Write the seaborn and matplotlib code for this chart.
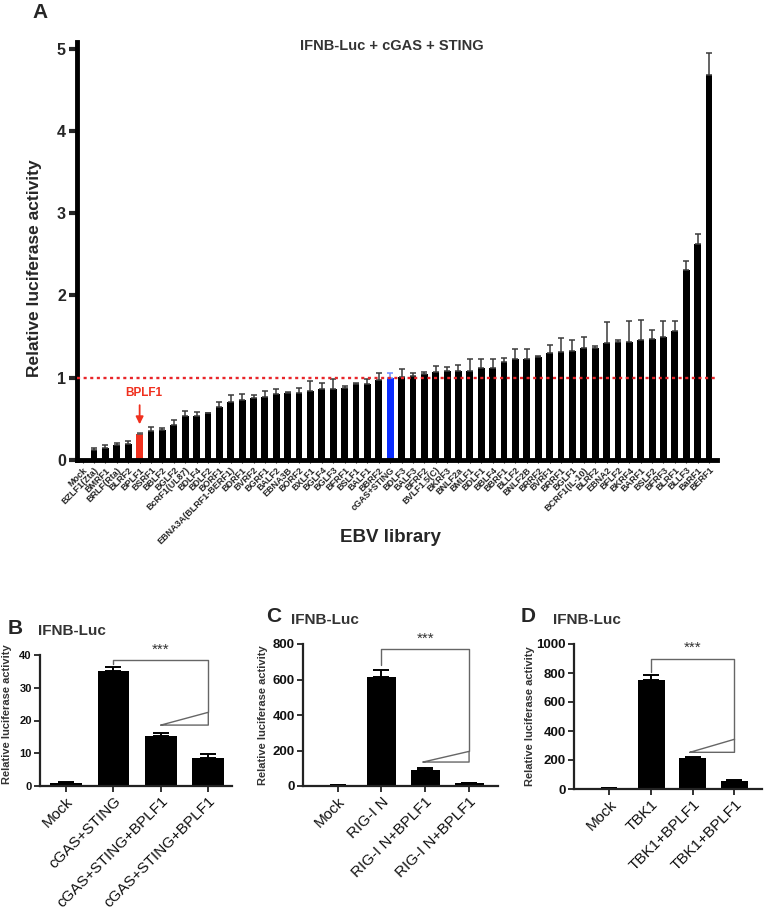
import numpy as np
import pandas as pd
import matplotlib
matplotlib.use("Agg")
import matplotlib.pyplot as plt
import seaborn as sns

sns.set_theme(style="white")
plt.rcParams['font.family'] = ['Liberation Sans', 'DejaVu Sans']

# ---------------- data: panel A ----------------
labels_A = ["Mock", "BZLF1(Zta)", "BMRF1", "BRLF(Rta)", "BLRF2", "BPLF1", "BSRF1", "BBLF2",
            "BGLF2", "BcRF1(UL87)", "BDLF4", "BDLF2", "BORF1", "EBNA3A(BLRF1-BERF1)", "BDRF1",
            "BVRF2", "BGRF1", "BALF2", "EBNA3B", "BORF2", "BXLF1", "BGLF4", "BGLF3", "BFRF1",
            "BSLF1", "BALF1", "BBRF2", "cGAS+STING", "BDLF3", "BALF3", "BFRF2", "BVLF1.5(C)",
            "BKRF3", "BNLF2a", "BMLF1", "BDLF1", "BBLF4", "BBRF1", "BLLF2", "BNLF2B", "BRRF2",
            "BVRF1", "BRRF1", "BGLF1", "BCRF1(IL-10)", "BLRF2", "EBNA2", "BFLF2", "BKRF4",
            "BARF1", "BSLF2", "BFRF3", "BLRF1", "BLLF3", "BaRF1", "BERF1"]
values_A = [0.0, 0.12, 0.15, 0.18, 0.195, 0.32, 0.35, 0.36, 0.42, 0.53, 0.54, 0.57, 0.64, 0.70,
            0.73, 0.75, 0.765, 0.80, 0.81, 0.82, 0.84, 0.86, 0.865, 0.88, 0.92, 0.92, 0.97, 1.00,
            1.005, 1.02, 1.045, 1.07, 1.08, 1.08, 1.08, 1.12, 1.12, 1.19, 1.23, 1.23, 1.25, 1.30,
            1.315, 1.325, 1.36, 1.36, 1.42, 1.44, 1.44, 1.46, 1.47, 1.49, 1.57, 2.31, 2.62, 4.68]
errtop_A = [0.0, 0.14, 0.18, 0.21, 0.23, 0.33, 0.40, 0.39, 0.49, 0.60, 0.585, 0.575, 0.71, 0.79,
            0.80, 0.79, 0.84, 0.86, 0.83, 0.88, 0.955, 0.935, 0.99, 0.905, 0.94, 0.98, 1.06, 1.06,
            1.10, 1.06, 1.07, 1.14, 1.13, 1.15, 1.23, 1.23, 1.23, 1.24, 1.355, 1.345, 1.265, 1.40,
            1.48, 1.46, 1.49, 1.39, 1.675, 1.46, 1.695, 1.70, 1.58, 1.69, 1.69, 2.42, 2.75, 4.95]
highlight_red = "BPLF1"
highlight_blue = "cGAS+STING"

# ---------------- data: panels B, C, D ----------------
labels_B = ["Mock", "cGAS+STING", "cGAS+STING+BPLF1", "cGAS+STING+BPLF1"]
values_B = [0.8, 35.2, 15.3, 8.5]
err_B = [0.5, 1.1, 0.8, 1.2]

labels_C = ["Mock", "RIG-I N", "RIG-I N+BPLF1", "RIG-I N+BPLF1"]
values_C = [4, 615, 92, 15]
err_C = [1, 38, 8, 4]

labels_D = ["Mock", "TBK1", "TBK1+BPLF1", "TBK1+BPLF1"]
values_D = [4, 752, 216, 55]
err_D = [1, 35, 8, 10]

RED = "#f0301e"
BLUE = "#0a2cff"
W, H = 764, 919

fig = plt.figure(figsize=(W / 100, H / 100), dpi=100)


def fx(px):
    return px / W


def fy(py):
    return 1 - py / H


# ================= Panel A =================
axA = fig.add_axes([fx(77), fy(460), fx(717) - fx(77), fy(42) - fy(460)])
nA = len(labels_A)
keysA = [str(i) for i in range(nA)]
colorsA = []
for lab in labels_A:
    if lab == highlight_red:
        colorsA.append(RED)
    elif lab == highlight_blue:
        colorsA.append(BLUE)
    else:
        colorsA.append("black")
dfA = pd.DataFrame({"key": keysA, "val": values_A})
sns.barplot(data=dfA, x="key", y="val", hue="key", palette=dict(zip(keysA, colorsA)),
            legend=False, width=0.6, saturation=1, ax=axA, edgecolor="none")
posA = np.arange(nA)
errA = np.array(errtop_A) - np.array(values_A)
for col in set(colorsA):
    idx = [i for i in range(nA) if colorsA[i] == col and errA[i] > 0]
    ec = "#3a3a3a" if col == "black" else ("#6f8cff" if col == BLUE else "#555555")
    axA.errorbar(posA[idx], np.array(values_A)[idx],
                 yerr=[np.zeros(len(idx)), errA[idx]], fmt="none",
                 ecolor=ec, elinewidth=1.1, capsize=2.2, capthick=1.1, zorder=1)

axA.set_xlim(-0.5, nA - 0.3)
axA.set_ylim(0, 5.08)
axA.set_yticks([0, 1, 2, 3, 4, 5])
axA.set_yticklabels(["0", "1", "2", "3", "4", "5"], fontsize=11.5, weight="bold")
axA.set_xticks(posA)
axA.set_xticklabels(labels_A, rotation=45, ha="right", rotation_mode="anchor",
                    fontsize=6.5, weight="bold")
axA.tick_params(axis="y", length=6, width=3, direction="out", pad=2, left=True)
axA.tick_params(axis="x", length=2, width=0.8, direction="out", pad=2, bottom=True)
for s in ["top", "right"]:
    axA.spines[s].set_visible(False)
for s in ["left", "bottom"]:
    axA.spines[s].set_linewidth(3.5)
    axA.spines[s].set_color("black")
axA.set_xlabel("")
axA.set_ylabel("Relative luciferase activity", fontsize=12.5, weight="bold")
axA.yaxis.set_label_coords(-0.055, 0.46)
axA.axhline(1, color="#e8262a", ls=(0, (1.3, 1.5)), lw=1.7, zorder=3)
axA.annotate("", xy=(5, 0.40), xytext=(5, 0.70),
             arrowprops=dict(arrowstyle="-|>", color=RED, lw=1.3, mutation_scale=11))
axA.text(5.35, 0.81, "BPLF1", color=RED, fontsize=8.5, weight="bold", ha="center", va="center")

fig.text(fx(392), fy(46), "IFNB-Luc + cGAS + STING", ha="center", va="center",
         fontsize=10.5, weight="bold", color="#333333")
fig.text(fx(40), fy(13), "A", ha="center", va="center", fontsize=15, weight="bold")
fig.text(fx(390), fy(537), "EBV library", ha="center", va="center", fontsize=13.5, weight="bold")


# ================= Panels B, C, D =================
def small_panel(rect, labels, values, errs, ylim, yticks, tick_fs, xlim, width,
                bracket_y, bracket_drop, star_y, tri, ylabel_xy, letter, letter_x, title_x):
    ax = fig.add_axes(rect)
    keys = [str(i) for i in range(len(labels))]
    df = pd.DataFrame({"key": keys, "val": values})
    sns.barplot(data=df, x="key", y="val", color="black", width=width, saturation=1,
                ax=ax, edgecolor="none")
    pos = np.arange(len(labels))
    ax.errorbar(pos, values, yerr=[np.zeros(len(errs)), errs], fmt="none", ecolor="black",
                elinewidth=1.4, capsize=5.5, capthick=1.4, zorder=1)
    ax.set_xlim(*xlim)
    ax.set_ylim(*ylim)
    ax.set_yticks(yticks)
    ax.set_yticklabels([str(t) for t in yticks], fontsize=tick_fs, weight="bold")
    ax.set_xticks(pos)
    ax.set_xticklabels(labels, rotation=45, ha="right", rotation_mode="anchor", fontsize=11)
    ax.tick_params(axis="both", length=4, width=1.3, direction="out", pad=2,
                   left=True, bottom=True, colors="#222222")
    for lab in ax.get_xticklabels() + ax.get_yticklabels():
        lab.set_color("#111111")
    for s in ["top", "right"]:
        ax.spines[s].set_visible(False)
    for s in ["left", "bottom"]:
        ax.spines[s].set_linewidth(1.6)
        ax.spines[s].set_color("#222222")
    ax.set_xlabel("")
    ax.set_ylabel("Relative luciferase activity", fontsize=8, weight="bold", color="#333333")
    ax.yaxis.set_label_coords(*ylabel_xy)
    # significance bracket
    lc = "#666666"
    ax.plot([1, 1, 3, 3], [bracket_drop, bracket_y, bracket_y, tri[2]], color=lc, lw=1,
            clip_on=False)
    ax.text(2, star_y, "***", ha="center", va="center", fontsize=11, color="#333333",
            clip_on=False)
    # dose triangle
    ax.plot([tri[0], 3, 3, tri[0]], [tri[1], tri[2], tri[1], tri[1]], color=lc, lw=1,
            clip_on=False)
    top_px = (1 - (rect[1] + rect[3])) * H
    fig.text(fx(letter_x), fy(top_px - 27), letter, ha="left", va="center", fontsize=15,
             weight="bold")
    fig.text(fx(title_x), fy(top_px - 24), "IFNB-Luc", ha="left", va="center", fontsize=11,
             weight="bold", color="#333333")
    return ax


small_panel([fx(40), fy(786), fx(232) - fx(40), fy(655) - fy(786)],
            labels_B, values_B, err_B, (0, 40), [0, 10, 20, 30, 40], 8,
            (-0.55, 3.5), 0.67, 38.5, 37.3, 41.5, (2, 18.6, 22.5),
            (-0.145, 0.55), "B", 8, 38)
small_panel([fx(303), fy(786), fx(498) - fx(303), fy(644) - fy(786)],
            labels_C, values_C, err_C, (0, 800), [0, 200, 400, 600, 800], 9.5,
            (-0.79, 3.66), 0.66, 770, 680, 830, (1.95, 135, 195),
            (-0.18, 0.5), "C", 266, 291)
small_panel([fx(574), fy(789), fx(762) - fx(574), fy(644) - fy(789)],
            labels_D, values_D, err_D, (0, 1000), [0, 200, 400, 600, 800, 1000], 9.5,
            (-0.85, 3.66), 0.65, 900, 810, 975, (1.93, 253, 343),
            (-0.205, 0.5), "D", 521, 553)

fig.savefig("out.png", dpi=100)
